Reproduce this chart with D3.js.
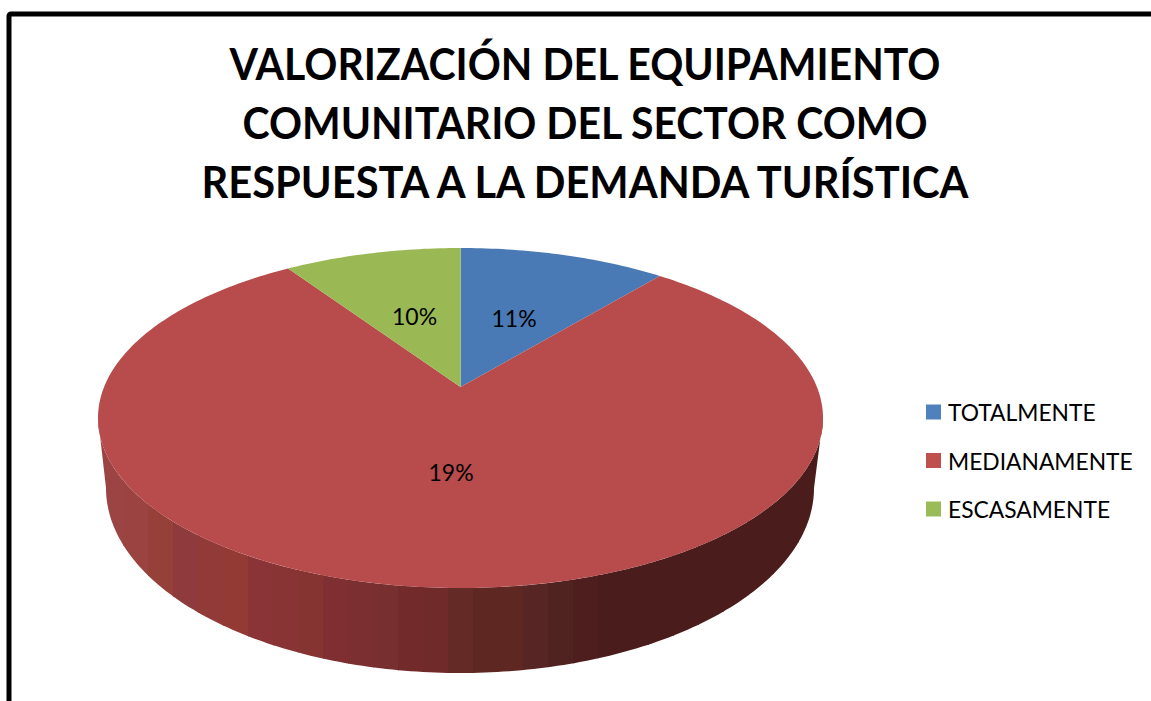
<!DOCTYPE html>
<html lang="es">
<head>
    <meta charset="UTF-8">
    <title>Valorización del equipamiento comunitario</title>
    <script src="https://d3js.org/d3.v7.min.js"></script>
    <style>
        body, html {margin: 0; padding: 0; background: #fff; overflow: hidden;}
        svg {display: block;}
        text {font-family: Lato, "Open Sans", sans-serif; fill: #000;}
    </style>
</head>
<body>
    <div class="marco"></div>

    <script>
        const categories = ["TOTALMENTE", "MEDIANAMENTE", "ESCASAMENTE"];
        const values = [11, 79.6, 9.4];
        // el rotulo del sector rojo dice 19% en el original, se deja asi
        const labels = ["11%", "19%", "10%"];
        const colors = ["#4a7ab5", "#b84b4b", "#9ab955"];
        const legendColors = ["#4f81bd", "#c0504d", "#9bbb59"];
        const titleLines = [
            "VALORIZACIÓN DEL EQUIPAMIENTO",
            "COMUNITARIO DEL SECTOR COMO",
            "RESPUESTA A LA DEMANDA TURÍSTICA"
        ];
        const titleWidths = [711, 685, 767];
        // bandas verticales del lateral, de izquierda a derecha
        const wallColors = [
            "#9c4343", "#9b4340", "#96403a", "#8f3a3c", "#913a38", "#933a34", "#8a3437", "#883435",
            "#863431", "#7f2f31", "#7c2f31", "#782f30", "#732a2b", "#702a2a", "#642b26", "#5e2722",
            "#5e2722", "#582525", "#512320", "#4e1d1e", "#4a1c1c", "#4a1c1c", "#4a1c1c", "#4a1c1c",
            "#4a1c1c", "#4a1c1c", "#4a1c1c", "#4a1c1c", "#4a1c1c"
        ];

        const width = 1151, height = 701;

        const svg = d3.select(".marco").append("svg")
            .attr("width", width)
            .attr("height", height);

        // marco negro, se sale por la derecha y por abajo
        svg.append("rect")
            .attr("x", 9).attr("y", 14)
            .attr("width", width + 20).attr("height", height + 20)
            .attr("rx", 2)
            .attr("fill", "#fff")
            .attr("stroke", "#000")
            .attr("stroke-width", 5);

        // escalas de la tapa y de la base del cilindro
        const xTop = d3.scaleLinear().domain([-1, 1]).range([98, 823]),
              yTop = d3.scaleLinear().domain([-1, 1]).range([588, 248]),
              xBase = d3.scaleLinear().domain([-1, 1]).range([106, 814]),
              yBase = d3.scaleLinear().domain([-1, 1]).range([673, 303]);

        // perspectiva: el centro del pastel queda por encima del centro de la elipse
        const shift = 0.182;
        function project(angle, r) {
            const u = r * Math.sin(angle), v = r * Math.cos(angle),
                  d = 1 + shift * v;
            return [u * Math.sqrt(1 - shift * shift) / d, (v + shift) / d];
        }

        const line = d3.line();
        const step = Math.PI / 180;

        // lateral
        const wallAngles = d3.range(Math.PI / 2, 3 * Math.PI / 2 + step, step);
        const wallPath = line(
            wallAngles.map(t => [xTop(Math.sin(t)), yTop(Math.cos(t))])
                .concat(wallAngles.slice().reverse().map(t => [xBase(Math.sin(t)), yBase(Math.cos(t))]))
        ) + "Z";

        svg.append("clipPath").attr("id", "lateral").append("path").attr("d", wallPath);

        const band = d3.scaleBand().domain(d3.range(wallColors.length)).range([98, 823]);

        svg.append("g").attr("clip-path", "url(#lateral)")
            .selectAll("rect")
            .data(wallColors)
            .enter().append("rect")
            .attr("x", (d, i) => band(i))
            .attr("y", yTop(0))
            .attr("width", band.bandwidth() + 1)
            .attr("height", yBase(-1) - yTop(0) + 2)
            .attr("fill", d => d);

        // sectores
        const pie = d3.pie().sort(null).value(d => d)(values);

        function slicePath(d) {
            const pts = [[xTop(0), yTop(shift)]];
            const n = Math.ceil((d.endAngle - d.startAngle) / step);
            d3.range(n + 1).forEach(i => {
                const p = project(d.startAngle + (d.endAngle - d.startAngle) * i / n, 1);
                pts.push([xTop(p[0]), yTop(p[1])]);
            });
            return line(pts) + "Z";
        }

        svg.append("g").selectAll("path")
            .data(pie)
            .enter().append("path")
            .attr("d", slicePath)
            .attr("fill", (d, i) => colors[i]);

        // rotulos de porcentaje
        svg.append("g").selectAll("text")
            .data(pie)
            .enter().append("text")
            .attr("x", d => xTop(project((d.startAngle + d.endAngle) / 2, 0.48)[0]))
            .attr("y", d => yTop(project((d.startAngle + d.endAngle) / 2, 0.48)[1]))
            .attr("dy", "0.35em")
            .attr("text-anchor", "middle")
            .attr("font-size", 23)
            .text((d, i) => labels[i]);

        // titulo
        svg.append("g").selectAll("text")
            .data(titleLines)
            .enter().append("text")
            .attr("x", 585)
            .attr("y", (d, i) => 80 + i * 59)
            .attr("text-anchor", "middle")
            .attr("font-size", 44)
            .attr("font-weight", 700)
            .attr("textLength", (d, i) => titleWidths[i])
            .attr("lengthAdjust", "spacingAndGlyphs")
            .text(d => d);

        // leyenda
        const legendY = d3.scalePoint().domain(categories).range([412, 509]);
        const legend = svg.append("g").selectAll("g")
            .data(categories)
            .enter().append("g")
            .attr("transform", d => `translate(926, ${legendY(d)})`);

        legend.append("rect")
            .attr("y", -7.5)
            .attr("width", 15).attr("height", 15)
            .attr("fill", (d, i) => legendColors[i]);

        legend.append("text")
            .attr("x", 22)
            .attr("dy", "0.4em")
            .attr("font-size", 22.8)
            .text(d => d);
    </script>
</body>
</html>
